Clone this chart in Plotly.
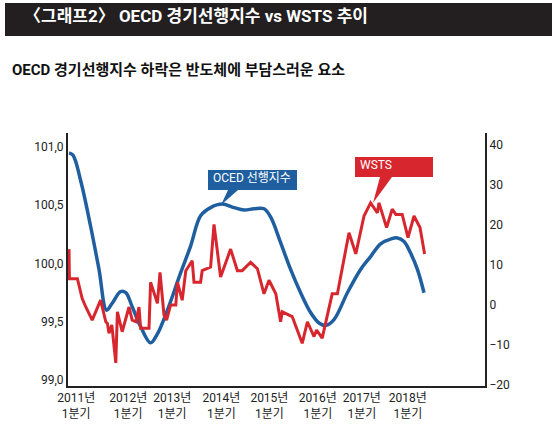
import plotly.graph_objects as go

# OECD 경기선행지수 (left axis), x = months since 2011-01
oecd_x = [0, 1, 3, 5.4, 7.5, 9.4, 10.8, 12.9, 14.2, 15.8, 17.9, 20.4, 22, 24.6, 27.9, 30.4,
          32.9, 35.4, 38.3, 41.25, 43.75, 46.25, 48.75, 50.4, 52.9, 55.4, 57.9, 60.4, 62.5,
          64.2, 66.25, 69.6, 72.9, 75.4, 77.9, 80.4, 82.1, 83.75, 85.4, 87.1, 88.75]
oecd_y = [100.95, 100.93, 100.70, 100.32, 99.95, 99.60, 99.66, 99.76, 99.75, 99.63, 99.46,
          99.32, 99.39, 99.60, 99.92, 100.15, 100.41, 100.48, 100.51, 100.48, 100.46, 100.47,
          100.47, 100.40, 100.18, 99.95, 99.75, 99.58, 99.49, 99.47, 99.52, 99.75, 99.95,
          100.06, 100.17, 100.21, 100.22, 100.19, 100.09, 99.95, 99.75]

# WSTS (right axis)
wsts_x = [0, 0.1, 2.1, 3.3, 4.2, 5.8, 7.9, 9.2, 9.6, 10, 10.7, 11.7, 12.1, 13.3, 15, 15.8,
          16.7, 17.5, 17.9, 20, 20.4, 22.1, 22.75, 23.75, 24.4, 25.4, 26.7, 27.1, 28.3, 29.2,
          30.8, 31.25, 32.9, 33.3, 35.4, 36.25, 37.9, 40.4, 42.1, 43.3, 45.4, 47.1, 48.75,
          50, 51.7, 52.9, 53.3, 55.8, 58.3, 59.6, 61.25, 61.9, 63.3, 65.8, 67.1, 70, 71.7,
          73.75, 75.4, 77.1, 77.5, 79.4, 80.8, 81.7, 83.3, 84.75, 86.25, 87.75, 88.9]
wsts_y = [13.9, 6.5, 6.5, 1.5, -0.6, -3.9, 1.1, -4.3, -4.7, -7.2, -5.1, -14.6, -1.8, -6.8,
          -0.6, -3.9, -4.3, -0.6, -5.9, -5.9, 5.6, 0.3, 8.1, -2.6, -3.9, -0.1, -0.1, 5.6, 1.1,
          8.5, 11, 5.6, 5.6, 8.5, 9.4, 20.1, 6.9, 13.9, 8.5, 8.5, 10.6, 9, 2.7, 6.1, 2.7, -4.3,
          -1.8, -3, -9.7, -4.3, -8, -6.4, -8.4, 2.7, 2.7, 18, 12.7, 22.2, 25.5, 23, 25.5, 19.3,
          23.9, 22.6, 22.6, 16.8, 22.2, 19.3, 12.7]

tick_pos = [1.8, 14.8, 25.8, 38.1, 50.1, 62.2, 73.2, 84.7]
tick_text = ["2011년<br>1분기", "2012년<br>1분기", "2013년<br>1분기", "2014년<br>1분기",
             "2015년<br>1분기", "2016년<br>1분기", "2017년<br>1분기", "2018년<br>1분기"]

BLUE = "#1f5fa0"
RED = "#d7262e"
FONT = "Roboto, Noto Sans CJK KR"

fig = go.Figure()
fig.add_trace(go.Scatter(x=oecd_x, y=oecd_y, mode="lines", line=dict(color=BLUE, width=3.5),
                         line_shape="spline", showlegend=False))
fig.add_trace(go.Scatter(x=wsts_x, y=wsts_y, mode="lines", yaxis="y2",
                         line=dict(color=RED, width=3), showlegend=False))

fig.update_layout(
    width=557, height=439, paper_bgcolor="white", plot_bgcolor="white",
    margin=dict(l=68, r=72, t=133, b=53),
    font=dict(family=FONT, color="#222", size=12),
    xaxis=dict(range=[-0.25, 104], tickvals=tick_pos, ticktext=tick_text, showgrid=False,
               zeroline=False, showline=True, linecolor="#222", linewidth=2, ticks="",
               automargin=False),
    yaxis=dict(range=[98.95, 101.12], tickvals=[99.0, 99.5, 100.0, 100.5, 101.0],
               ticktext=["99,0", "99,5", "100,0", "100,5", "101,0"], showgrid=False,
               zeroline=False, showline=True, linecolor="#222", linewidth=2, ticks="",
               automargin=False),
    yaxis2=dict(range=[-20.4, 43], overlaying="y", side="right",
                tickvals=[-20, -10, 0, 10, 20, 30, 40],
                ticktext=["−20", "−10", "0", "10", "20", "30", "40"], showgrid=False,
                zeroline=False, showline=True, linecolor="#222", linewidth=2, ticks="",
                automargin=False),
)

def px(x, y):
    return (x - 68) / 417, (386 - y) / 253

shapes = [
    dict(type="rect", xref="paper", yref="paper", x0=px(5, 0)[0], x1=px(552, 0)[0],
         y0=px(0, 3)[1], y1=px(0, 36)[1], fillcolor="#231f20", line=dict(width=0)),
    dict(type="rect", xref="paper", yref="paper", x0=px(208, 0)[0], x1=px(297, 0)[0],
         y0=px(0, 170)[1], y1=px(0, 190)[1], fillcolor=BLUE, line=dict(width=0)),
    dict(type="path", xref="paper", yref="paper",
         path="M %f,%f L %f,%f L %f,%f Z" % (*px(228, 190), *px(221, 205), *px(238, 190)),
         fillcolor=BLUE, line=dict(width=0)),
    dict(type="rect", xref="paper", yref="paper", x0=px(355, 0)[0], x1=px(433, 0)[0],
         y0=px(0, 157)[1], y1=px(0, 177)[1], fillcolor=RED, line=dict(width=0)),
    dict(type="path", xref="paper", yref="paper",
         path="M %f,%f L %f,%f L %f,%f Z" % (*px(380, 177), *px(373, 203), *px(392, 177)),
         fillcolor=RED, line=dict(width=0)),
]
fig.update_layout(shapes=shapes)

fig.add_annotation(x=px(22, 0)[0], y=px(0, 16)[1], xref="paper", yref="paper", xanchor="left",
                   yanchor="middle", text="<b>〈그래프2〉 OECD 경기선행지수 vs WSTS 추이</b>",
                   showarrow=False, font=dict(size=17, color="white"))
fig.add_annotation(x=px(10, 0)[0], y=px(0, 70)[1], xref="paper", yref="paper", xanchor="left",
                   yanchor="middle", text="<b>OECD 경기선행지수 하락은 반도체에 부담스러운 요소</b>",
                   showarrow=False, font=dict(size=15, color="#111"))
fig.add_annotation(x=px(252, 0)[0], y=px(0, 177)[1], xref="paper", yref="paper",
                   yanchor="middle", text="OCED 선행지수", showarrow=False,
                   font=dict(size=12, color="white"))
fig.add_annotation(x=px(394, 0)[0], y=px(0, 165)[1], xref="paper", yref="paper",
                   yanchor="middle", text="WSTS", showarrow=False,
                   font=dict(size=12, color="white"))

fig.write_html("out.html", config={"displayModeBar": False},
               post_script="document.body.style.margin='0';")
